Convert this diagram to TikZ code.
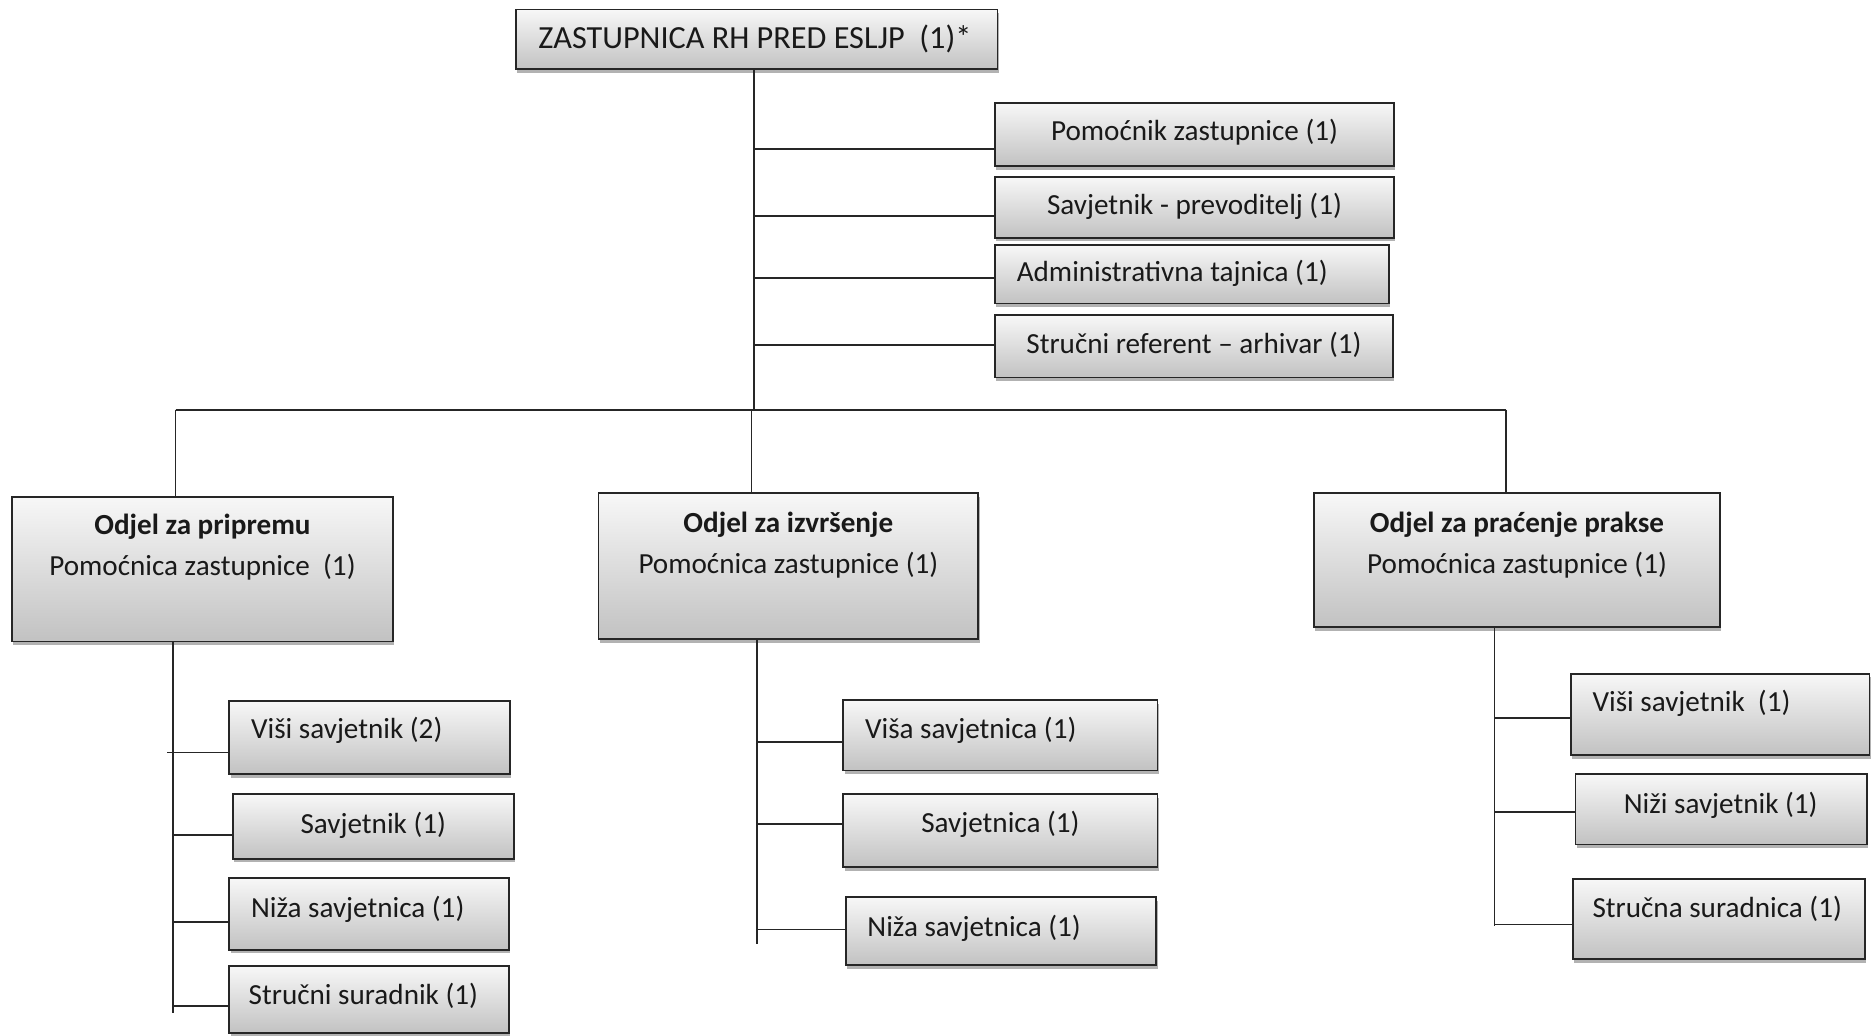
\documentclass[tikz,border=0pt]{standalone}
\usepackage{fontspec}
\setmainfont{Carlito}
\usetikzlibrary{shadows}
\tikzset{
  orgbox/.style={draw=black!85, line width=1.5pt, top color=black!3, bottom color=black!24,
    drop shadow={shadow xshift=1pt, shadow yshift=-3pt, opacity=0.3, fill=black},
    inner sep=0pt},
  lbl/.style={font=\fontsize{24.4}{28}\selectfont, inner sep=0pt, text=black!90},
  toplbl/.style={font=\fontsize{27}{30}\selectfont, inner sep=0pt, text=black!90},
  ttl/.style={font=\fontsize{24.4}{28}\selectfont\bfseries, inner sep=0pt, text=black!90},
  conn/.style={line width=1.4pt, draw=black!85},
}
\newcommand\obox[5]{\node[orgbox, minimum width={(#4-#2)*1pt}, minimum height={(#5-#3)*1pt}] (#1) at ({(#2+#4)/2},{(#3+#5)/2}) {};}
\begin{document}
\begin{tikzpicture}[x=1pt,y=-1pt]
\useasboundingbox (0,0) rectangle (1568,867);

% top
\obox{top}{432}{8}{835}{58}
\node[toplbl] (topt) at (632,33) {ZASTUPNICA RH PRED ESLJP\ \ (1)*};

% staff boxes
\obox{s1}{833}{86}{1167}{139}
\node[lbl] (s1t) at (1000,111) {Pomoćnik zastupnice (1)};
\obox{s2}{833}{148}{1167}{199}
\node[lbl] (s2t) at (1000,173) {Savjetnik - prevoditelj (1)};
\obox{s3}{833}{205}{1163}{254}
\node[lbl,anchor=west] (s3t) at (851,229) {Administrativna tajnica (1)};
\obox{s4}{833}{264}{1166}{316}
\node[lbl] (s4t) at (999.5,289) {Stručni referent – arhivar (1)};

% departments
\obox{d1}{10}{416}{329}{537}
\node[ttl] (d1a) at (169.5,441) {Odjel za pripremu};
\node[lbl] (d1b) at (169.5,475) {Pomoćnica zastupnice\ \ (1)};
\obox{d2}{501}{413}{819}{535}
\node[ttl] (d2a) at (660,439) {Odjel za izvršenje};
\node[lbl] (d2b) at (660,473) {Pomoćnica zastupnice (1)};
\obox{d3}{1100}{413}{1440}{525}
\node[ttl] (d3a) at (1270,439) {Odjel za praćenje prakse};
\node[lbl] (d3b) at (1270,473) {Pomoćnica zastupnice (1)};

% left column
\obox{a1}{192}{587}{427}{648}
\node[lbl,anchor=west] (a1t) at (210,611) {Viši savjetnik (2)};
\obox{a2}{195}{665}{430}{719}
\node[lbl] (a2t) at (312.5,691) {Savjetnik (1)};
\obox{a3}{192}{735}{426}{795}
\node[lbl,anchor=west] (a3t) at (210,761) {Niža savjetnica (1)};
\obox{a4}{192}{809}{426}{865}
\node[lbl,anchor=west] (a4t) at (208,834) {Stručni suradnik (1)};

% middle column
\obox{b1}{706}{586}{969}{645}
\node[lbl,anchor=west] (b1t) at (724,611) {Viša savjetnica (1)};
\obox{b2}{706}{665}{969}{726}
\node[lbl] (b2t) at (837.5,690) {Savjetnica (1)};
\obox{b3}{708}{751}{968}{808}
\node[lbl,anchor=west] (b3t) at (726,777) {Niža savjetnica (1)};

% right column
\obox{c1}{1315}{564}{1565}{632}
\node[lbl,anchor=west] (c1t) at (1333,589) {Viši savjetnik\ \ (1)};
\obox{c2}{1319}{648}{1563}{707}
\node[lbl] (c2t) at (1440.5,674) {Niži savjetnik (1)};
\obox{c3}{1317}{736}{1561}{803}
\node[lbl,anchor=west] (c3t) at (1333,761) {Stručna suradnica (1)};

% trunk coordinates
\coordinate (t0) at (631,343);
\coordinate (t1) at (631,125);
\coordinate (t2) at (631,181);
\coordinate (t3) at (631,233);
\coordinate (t4) at (631,289);
\coordinate (bl) at (147,343);
\coordinate (br) at (1261,343);

% main trunk and staff branches
\draw[conn] (top.south -| t0) -- (t0);
\draw[conn] (t1) -- (t1 -| s1.west);
\draw[conn] (t2) -- (t2 -| s2.west);
\draw[conn] (t3) -- (t3 -| s3.west);
\draw[conn] (t4) -- (t4 -| s4.west);

% bus and drops
\draw[conn] (bl) -- (br);
\draw[conn] (bl) -- (bl |- d1.north);
\draw[conn] (629,343) -- (d2.north -| 629,0);
\draw[conn] (br) -- (br |- d3.north);

% left column connectors
\coordinate (la) at (145,848);
\draw[conn] (d1.south -| la) -- (la);
\draw[conn] (140,630) -- (a1.west |- 0,630);
\draw[conn] (145,699) -- (a2.west |- 0,699);
\draw[conn] (145,772) -- (a3.west |- 0,772);
\draw[conn] (145,842) -- (a4.west |- 0,842);

% middle column connectors
\coordinate (ma) at (634,790);
\draw[conn] (d2.south -| ma) -- (ma);
\draw[conn] (634,621) -- (b1.west |- 0,621);
\draw[conn] (634,690) -- (b2.west |- 0,690);
\draw[conn] (634,778) -- (b3.west |- 0,778);

% right column connectors
\coordinate (ra) at (1251,775);
\draw[conn] (d3.south -| ra) -- (ra);
\draw[conn] (1251,601) -- (c1.west |- 0,601);
\draw[conn] (1251,680) -- (c2.west |- 0,680);
\draw[conn] (1251,774) -- (c3.west |- 0,774);
\end{tikzpicture}
\end{document}
